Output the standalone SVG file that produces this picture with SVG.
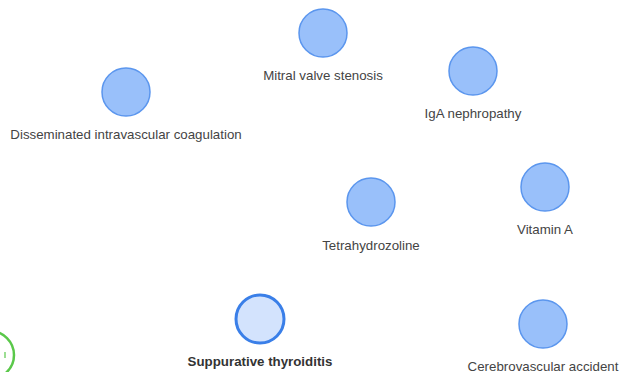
<svg xmlns="http://www.w3.org/2000/svg" width="624" height="372" viewBox="0 0 624 372">
<style>
.n{fill:#99c0fa;stroke:#5b96ee;stroke-width:1.5}
.s{fill:#d3e3fd;stroke:#3a7fe8;stroke-width:3}
.t{font-family:"Liberation Sans",Arial,sans-serif;font-size:13.3px;fill:#444;text-anchor:middle}
.b{font-weight:bold;fill:#333}
</style>
<rect width="624" height="372" fill="#fff"/>
<g id="connectors"></g>
<g id="partial"><circle cx="-10" cy="355" r="24" fill="none" stroke="#5ac84a" stroke-width="2.5"/><line x1="5" y1="352" x2="5" y2="358" stroke="#5ac84a" stroke-width="1.2"/></g>
<g id="mitral"><circle class="n" cx="323" cy="33" r="24"/><text class="t" x="323" y="79.5">Mitral valve stenosis</text></g>
<g id="iga"><circle class="n" cx="473" cy="71" r="24"/><text class="t" x="473" y="117.5">IgA nephropathy</text></g>
<g id="dic"><circle class="n" cx="126" cy="92" r="24"/><text class="t" x="126" y="138.5">Disseminated intravascular coagulation</text></g>
<g id="tetra"><circle class="n" cx="371" cy="202" r="24"/><text class="t" x="371" y="249.5">Tetrahydrozoline</text></g>
<g id="vita"><circle class="n" cx="545" cy="187" r="24"/><text class="t" x="545" y="233.5">Vitamin A</text></g>
<g id="supp"><circle class="s" cx="260" cy="319" r="24"/><text class="t b" x="260" y="366">Suppurative thyroiditis</text></g>
<g id="cva"><circle class="n" cx="543" cy="324" r="24"/><text class="t" x="543" y="370.5">Cerebrovascular accident</text></g>
</svg>
